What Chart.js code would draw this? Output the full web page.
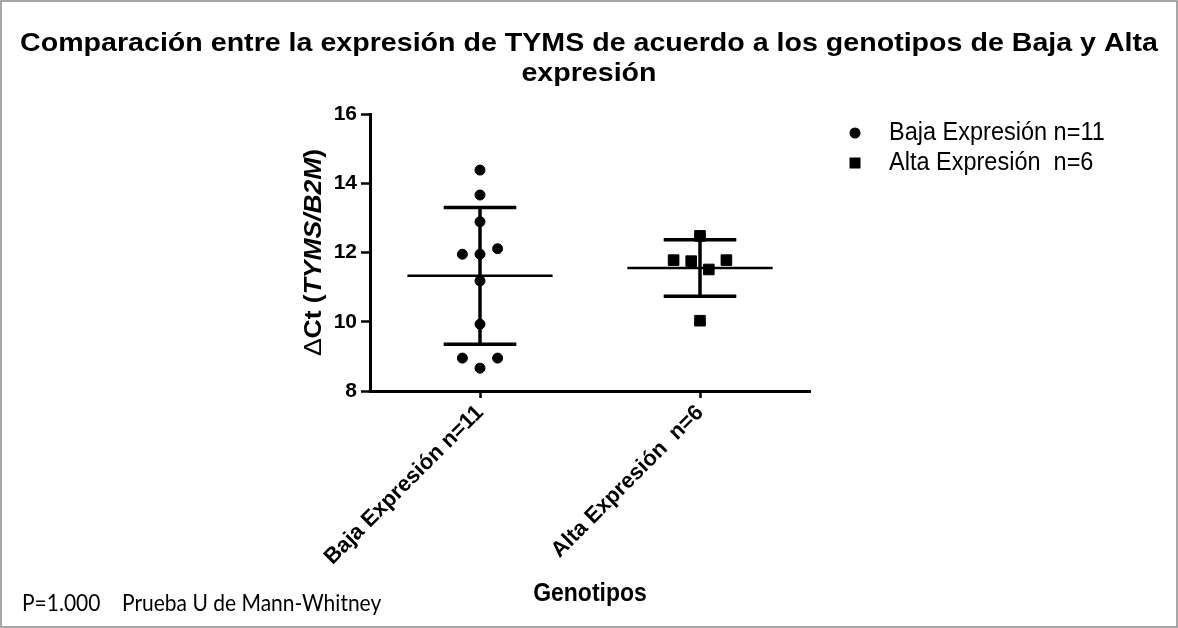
<!DOCTYPE html>
<html>
<head>
<meta charset="utf-8">
<title>TYMS - Baja vs Alta</title>
<script src="https://cdn.jsdelivr.net/npm/chart.js@4.4.0/dist/chart.umd.min.js"></script>
<style>
  html, body { margin: 0; padding: 0; background: #fff; }
  #wrap { width: 1178px; height: 628px; }
</style>
</head>
<body>
<div id="wrap"><canvas id="myChart" width="1178" height="628"></canvas></div>
<script>
// groups and the ΔCt value of every sample
const groups = ['Baja Expresión n=11', 'Alta Expresión  n=6'];
const groupPos = [0.5, 1.5];
const bajaValues = [14.38, 13.66, 12.89, 11.95, 11.95, 12.11, 11.18, 9.93, 8.95, 8.95, 8.66];
const bajaJitter = [0, 0, 0, -0.08, 0, 0.08, 0, 0, -0.08, 0.08, 0];
const altaValues = [12.48, 11.78, 11.75, 11.51, 11.78, 10.03];
const altaJitter = [0, -0.12, -0.04, 0.04, 0.12, 0];
const yTicks = [8, 10, 12, 14, 16];

const FONT = "'Liberation Sans', Arial, sans-serif";
const STRETCH = 1.12; // text in this figure is a bit taller than normal

function mean(arr) {
    return arr.reduce((a, b) => a + b, 0) / arr.length;
}

function sd(arr) {
    let m = mean(arr);
    return Math.sqrt(arr.reduce((a, b) => a + (b - m) * (b - m), 0) / (arr.length - 1));
}

function points(values, jitter, pos) {
    return values.map((v, i) => ({ x: pos + jitter[i], y: v }));
}

function segment(data, width) {
    return {
        data: data,
        showLine: true,
        borderColor: '#000',
        borderWidth: width,
        borderCapStyle: 'butt',
        pointRadius: 0,
        fill: false
    };
}

// mean line and mean ± SD whisker for one group
function summaryLines(values, pos) {
    let m = mean(values);
    let s = sd(values);
    return [
        segment([{ x: pos - 0.33, y: m }, { x: pos + 0.33, y: m }], 2.5),
        segment([{ x: pos, y: m - s }, { x: pos, y: m + s }], 3.5),
        segment([{ x: pos - 0.165, y: m + s }, { x: pos + 0.165, y: m + s }], 3.5),
        segment([{ x: pos - 0.165, y: m - s }, { x: pos + 0.165, y: m - s }], 3.5)
    ];
}

function stretchedText(ctx, text, x, y, font, align, sx, sy) {
    ctx.save();
    ctx.font = font;
    ctx.textAlign = align;
    ctx.textBaseline = 'middle';
    ctx.translate(x, y);
    ctx.scale(sx || 1, sy || STRETCH);
    ctx.fillText(text, 0, 0);
    ctx.restore();
}

// titles, legend and footnote drawn straight on the canvas
const extraText = {
    id: 'extraText',
    afterDraw(chart) {
        const ctx = chart.ctx;
        ctx.save();
        ctx.fillStyle = '#000';

        // frame
        ctx.strokeStyle = '#8a8a8a';
        ctx.lineWidth = 1.5;
        ctx.strokeRect(1, 1, 1176, 626);

        // title
        stretchedText(ctx, 'Comparación entre la expresión de TYMS de acuerdo a los genotipos de Baja y Alta', 589, 44, 'bold 26px ' + FONT, 'center', 1.1, 1);
        stretchedText(ctx, 'expresión', 589, 74, 'bold 26px ' + FONT, 'center', 1.1, 1);

        // x title
        stretchedText(ctx, 'Genotipos', 590, 594, 'bold 23px ' + FONT, 'center');

        // y title, with the gene names in italics
        const parts = [
            { t: 'Δ', f: '23px ' + FONT },
            { t: 'Ct (', f: 'bold 23px ' + FONT },
            { t: 'TYMS/B2M', f: 'italic bold 23px ' + FONT },
            { t: ')', f: 'bold 23px ' + FONT }
        ];
        let total = 0;
        parts.forEach(p => { ctx.font = p.f; p.w = ctx.measureText(p.t).width; total += p.w; });
        ctx.save();
        ctx.translate(315, (chart.chartArea.top + chart.chartArea.bottom) / 2);
        ctx.rotate(-Math.PI / 2);
        ctx.scale(STRETCH + 0.03, 1);
        ctx.textAlign = 'left';
        ctx.textBaseline = 'middle';
        let x = -total / 2;
        parts.forEach(p => { ctx.font = p.f; ctx.fillText(p.t, x, 0); x += p.w; });
        ctx.restore();

        // legend
        ctx.beginPath();
        ctx.arc(855, 133, 5.5, 0, Math.PI * 2);
        ctx.fill();
        ctx.fillRect(849.5, 157.5, 11, 11);
        stretchedText(ctx, groups[0], 889, 133, '23.5px ' + FONT, 'left');
        stretchedText(ctx, groups[1], 889, 163, '23.5px ' + FONT, 'left');

        // test result
        stretchedText(ctx, 'P=1.000', 22, 603, "21px Lato, 'Open Sans', sans-serif", 'left');
        stretchedText(ctx, 'Prueba U de Mann-Whitney', 122, 603, "21px Lato, 'Open Sans', sans-serif", 'left');

        ctx.restore();
    }
};

var ctx = document.getElementById('myChart').getContext('2d');
var chart = new Chart(ctx, {
    type: 'scatter',
    data: {
        datasets: [
            {
                label: groups[0],
                data: points(bajaValues, bajaJitter, groupPos[0]),
                pointStyle: 'circle',
                pointRadius: 5,
                pointBorderWidth: 1,
                backgroundColor: '#000',
                borderColor: '#000'
            },
            {
                label: groups[1],
                data: points(altaValues, altaJitter, groupPos[1]),
                pointStyle: 'rect',
                pointRadius: 7.5,
                pointBorderWidth: 1,
                backgroundColor: '#000',
                borderColor: '#000'
            }
        ].concat(summaryLines(bajaValues, groupPos[0]), summaryLines(altaValues, groupPos[1]))
    },
    options: {
        responsive: false,
        animation: false,
        events: [],
        layout: { padding: { top: 114, right: 368, bottom: 0, left: 0 } },
        plugins: {
            legend: { display: false },
            title: { display: false },
            tooltip: { enabled: false }
        },
        scales: {
            x: {
                type: 'linear',
                min: 0,
                max: 2,
                afterBuildTicks: function (scale) {
                    scale.ticks = groupPos.map(v => ({ value: v }));
                },
                afterFit: function (scale) {
                    scale.height = 628 - 391;
                },
                grid: {
                    display: true,
                    drawOnChartArea: false,
                    drawTicks: true,
                    tickLength: 7,
                    tickWidth: 2.5,
                    tickColor: '#000'
                },
                border: { display: true, color: '#000', width: 3 },
                ticks: {
                    autoSkip: false,
                    minRotation: 45,
                    maxRotation: 45,
                    padding: 2,
                    color: '#000',
                    font: { family: FONT, size: 22, weight: 'bold' },
                    callback: function (value, index) {
                        return groups[index];
                    }
                }
            },
            y: {
                min: yTicks[0],
                max: yTicks[yTicks.length - 1],
                afterBuildTicks: function (scale) {
                    scale.ticks = yTicks.map(v => ({ value: v }));
                },
                afterFit: function (scale) {
                    scale.width = 370;
                },
                grid: {
                    display: true,
                    drawOnChartArea: false,
                    drawTicks: true,
                    tickLength: 9,
                    tickWidth: 2.5,
                    tickColor: '#000'
                },
                border: { display: true, color: '#000', width: 3 },
                ticks: {
                    padding: 4,
                    color: '#000',
                    font: { family: FONT, size: 21, weight: 'bold' }
                }
            }
        }
    },
    plugins: [extraText]
});
</script>
</body>
</html>
